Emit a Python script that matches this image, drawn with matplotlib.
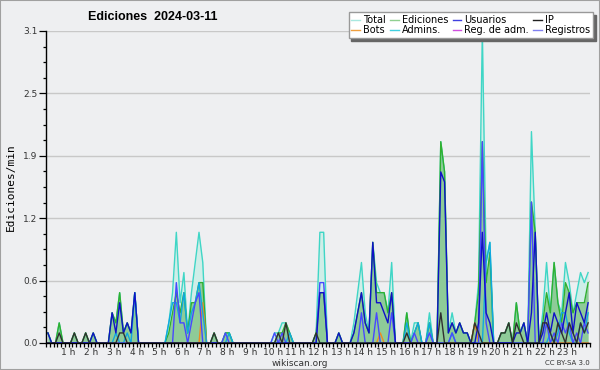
import numpy as np
import matplotlib
matplotlib.use('Agg')
import matplotlib.pyplot as plt
from matplotlib.lines import Line2D
from matplotlib.patches import Rectangle

# Ediciones por minuto, tramos de 10 minutos (12 valores por fila = 2 horas)
total = [
    0.1, 0, 0, 0.2, 0, 0, 0, 0.1, 0, 0, 0.1, 0,
    0.1, 0, 0, 0, 0, 0.3, 0.2, 0.5, 0.1, 0.2, 0.1, 0.5,
    0, 0, 0, 0, 0, 0, 0, 0, 0.2, 0.5, 1.1, 0.4,
    0.7, 0.1, 0.5, 0.8, 1.1, 0.8, 0, 0, 0.1, 0, 0, 0.1,
    0.1, 0, 0, 0, 0, 0, 0, 0, 0, 0, 0, 0,
    0.1, 0.1, 0.2, 0.2, 0.1, 0, 0, 0, 0, 0, 0, 0.1,
    1.1, 1.1, 0, 0, 0, 0.1, 0, 0, 0, 0.2, 0.5, 0.8,
    0.3, 0.1, 1.0, 0.6, 0.5, 0.5, 0.3, 0.8, 0, 0, 0, 0.3,
    0, 0.2, 0.2, 0, 0, 0.3, 0, 0, 2.0, 1.7, 0.1, 0.3,
    0.1, 0.2, 0.1, 0.1, 0, 0.2, 0.6, 3.1, 0.8, 1.0, 0, 0,
    0.1, 0.1, 0.2, 0, 0.4, 0.1, 0.2, 0, 2.1, 1.1, 0, 0.3,
    0.8, 0.3, 0.8, 0.4, 0.3, 0.8, 0.6, 0.3, 0.5, 0.7, 0.6, 0.7,
]
ediciones = [
    0.1, 0, 0, 0.2, 0, 0, 0, 0.1, 0, 0, 0.1, 0,
    0.1, 0, 0, 0, 0, 0.3, 0.2, 0.5, 0.1, 0.2, 0.1, 0.5,
    0, 0, 0, 0, 0, 0, 0, 0, 0.1, 0.3, 0.5, 0.3,
    0.5, 0.1, 0.4, 0.4, 0.6, 0.6, 0, 0, 0.1, 0, 0, 0.1,
    0.1, 0, 0, 0, 0, 0, 0, 0, 0, 0, 0, 0,
    0, 0.1, 0.1, 0.2, 0.1, 0, 0, 0, 0, 0, 0, 0.1,
    0.5, 0.5, 0, 0, 0, 0.1, 0, 0, 0, 0.1, 0.3, 0.5,
    0.2, 0.1, 1.0, 0.5, 0.5, 0.5, 0.3, 0.5, 0, 0, 0, 0.3,
    0, 0.1, 0.2, 0, 0, 0.2, 0, 0, 2.0, 1.7, 0.1, 0.2,
    0.1, 0.2, 0.1, 0.1, 0, 0.2, 0.5, 2.0, 0.6, 0.9, 0, 0,
    0.1, 0.1, 0.2, 0, 0.4, 0.1, 0.2, 0, 1.4, 1.1, 0, 0.2,
    0.5, 0.3, 0.8, 0.4, 0.2, 0.6, 0.5, 0.3, 0.4, 0.4, 0.4, 0.6,
]
usuarios = [
    0.1, 0, 0, 0, 0, 0, 0, 0, 0, 0, 0, 0,
    0.1, 0, 0, 0, 0, 0.3, 0.1, 0.4, 0.1, 0.2, 0.1, 0.5,
    0, 0, 0, 0, 0, 0, 0, 0, 0, 0, 0, 0,
    0, 0, 0, 0, 0, 0, 0, 0, 0, 0, 0, 0,
    0, 0, 0, 0, 0, 0, 0, 0, 0, 0, 0, 0,
    0, 0, 0, 0, 0, 0, 0, 0, 0, 0, 0, 0,
    0.5, 0.5, 0, 0, 0, 0.1, 0, 0, 0, 0.1, 0.3, 0.5,
    0.2, 0.1, 1.0, 0.4, 0.4, 0.3, 0.2, 0.5, 0, 0, 0, 0,
    0, 0, 0, 0, 0, 0, 0, 0, 1.7, 1.6, 0.1, 0.2,
    0.1, 0.2, 0.1, 0.1, 0, 0, 0.2, 1.1, 0.3, 0.2, 0, 0,
    0, 0, 0, 0, 0.1, 0.1, 0.2, 0, 0.3, 1.1, 0, 0.1,
    0.3, 0.1, 0.3, 0.2, 0.1, 0.3, 0.5, 0.1, 0.4, 0.3, 0.2, 0.4,
]
ip = [
    0, 0, 0, 0.1, 0, 0, 0, 0.1, 0, 0, 0.1, 0,
    0, 0, 0, 0, 0, 0, 0, 0.1, 0.1, 0, 0, 0,
    0, 0, 0, 0, 0, 0, 0, 0, 0, 0, 0, 0,
    0, 0, 0, 0, 0, 0, 0, 0, 0.1, 0, 0, 0,
    0, 0, 0, 0, 0, 0, 0, 0, 0, 0, 0, 0,
    0, 0.1, 0, 0.2, 0, 0, 0, 0, 0, 0, 0, 0.1,
    0, 0, 0, 0, 0, 0, 0, 0, 0, 0, 0, 0,
    0, 0, 0, 0, 0, 0, 0, 0, 0, 0, 0, 0.1,
    0, 0, 0, 0, 0, 0, 0, 0, 0.3, 0, 0, 0,
    0, 0, 0, 0, 0, 0.2, 0.1, 0, 0, 0, 0, 0,
    0.1, 0.1, 0.2, 0, 0.2, 0.1, 0, 0, 0, 0, 0, 0.2,
    0.2, 0.1, 0, 0.2, 0.1, 0, 0.2, 0.1, 0, 0.2, 0.1, 0.2,
]
bots = [
    0, 0, 0, 0, 0, 0, 0, 0, 0, 0, 0, 0,
    0, 0, 0, 0, 0, 0, 0, 0, 0, 0, 0, 0,
    0, 0, 0, 0, 0, 0, 0, 0, 0, 0, 0, 0,
    0, 0, 0, 0, 0, 0.4, 0, 0, 0, 0, 0, 0,
    0, 0, 0, 0, 0, 0, 0, 0, 0, 0, 0, 0,
    0, 0, 0, 0, 0, 0, 0, 0, 0, 0, 0, 0,
    0, 0, 0, 0, 0, 0, 0, 0, 0, 0, 0, 0,
    0, 0, 0, 0, 0.1, 0, 0, 0, 0, 0, 0, 0,
    0, 0, 0, 0, 0, 0, 0, 0, 0, 0, 0, 0,
    0, 0, 0, 0, 0, 0.2, 0, 0, 0, 0, 0, 0,
    0, 0, 0, 0, 0, 0, 0, 0, 0, 0, 0, 0,
    0, 0, 0, 0, 0, 0, 0, 0, 0, 0, 0, 0,
]
admins = [
    0, 0, 0, 0, 0, 0, 0, 0, 0, 0, 0, 0,
    0, 0, 0, 0, 0, 0, 0.1, 0, 0, 0.1, 0, 0.5,
    0, 0, 0, 0, 0, 0, 0, 0, 0.2, 0.4, 0.4, 0.2,
    0.5, 0.1, 0.3, 0.4, 0.6, 0.3, 0, 0, 0, 0, 0, 0,
    0.1, 0, 0, 0, 0, 0, 0, 0, 0, 0, 0, 0,
    0, 0, 0, 0, 0.1, 0, 0, 0, 0, 0, 0, 0,
    0, 0, 0, 0, 0, 0, 0, 0, 0, 0, 0, 0,
    0, 0, 0, 0, 0, 0, 0, 0, 0, 0, 0, 0.2,
    0, 0.1, 0.2, 0, 0, 0.2, 0, 0, 0, 0, 0, 0.1,
    0, 0, 0, 0, 0, 0, 0, 0, 0.8, 1.0, 0, 0,
    0, 0, 0, 0, 0, 0, 0, 0, 0, 0, 0, 0,
    0, 0.1, 0, 0.1, 0.3, 0.3, 0.1, 0, 0, 0.2, 0.1, 0.3,
]
reg_adm = [0.0] * 144
registros = [
    0, 0, 0, 0, 0, 0, 0, 0, 0, 0, 0, 0,
    0, 0, 0, 0, 0, 0, 0, 0, 0, 0, 0, 0,
    0, 0, 0, 0, 0, 0, 0, 0, 0, 0, 0.6, 0.2,
    0.2, 0, 0.2, 0.4, 0.5, 0, 0, 0, 0, 0, 0, 0.1,
    0, 0, 0, 0, 0, 0, 0, 0, 0, 0, 0, 0,
    0.1, 0, 0.1, 0, 0, 0, 0, 0, 0, 0, 0, 0,
    0.6, 0.6, 0, 0, 0, 0, 0, 0, 0, 0, 0, 0.3,
    0, 0, 0, 0.3, 0, 0, 0, 0.3, 0, 0, 0, 0,
    0, 0.1, 0, 0, 0, 0.1, 0, 0, 0, 0, 0, 0.1,
    0, 0, 0, 0, 0, 0, 0, 2.0, 0.2, 0, 0, 0,
    0, 0, 0, 0, 0, 0, 0, 0, 1.4, 0, 0, 0,
    0.2, 0, 0.1, 0, 0.2, 0.1, 0.2, 0, 0.1, 0, 0.2, 0.1,
]

hour_labels = [''] + [f'{h} h' for h in range(1, 24)] + ['']

bg = '#eeeff1'
horas = (np.arange(len(total)) + 0.5) / 6

fig = plt.figure(figsize=(6, 3.7), dpi=100, facecolor=bg)
ax = fig.add_axes([46 / 600, 27 / 370, 544 / 600, 312 / 370])
ax.set_facecolor(bg)

# rellenos
ax.fill_between(horas, total, color='#cfeee8', lw=0, zorder=1)
ax.fill_between(horas, ediciones, color='#8ecb98', lw=0, zorder=1.1)

ax.plot(horas, total, color='#3fd6c6', lw=1.0, zorder=1.6)
ax.plot(horas, ediciones, color='#30b030', lw=1.0, zorder=1.7)
ax.plot(horas, bots, color='#f08a20', lw=1.0, zorder=1.8)
ax.plot(horas, admins, color='#10a8e0', lw=1.0, zorder=1.9)
ax.plot(horas, reg_adm, color='#d030e0', lw=1.0, zorder=1.5)
ax.plot(horas, registros, color='#4848ff', lw=1.0, zorder=2.0)
ax.plot(horas, usuarios, color='#1010c8', lw=1.0, zorder=2.1)
ax.plot(horas, ip, color='#303030', lw=1.0, zorder=2.2)

ax.set_xlim(0, 24)
ax.set_ylim(0, 3.1)
yt = np.linspace(0, 3.1, 6)
ax.set_yticks(yt)
ax.set_yticklabels([f'{v:.1f}' for v in yt])
ax.set_yticks(np.linspace(0, 3.1, 21), minor=True)
ax.set_xticks(range(25))
ax.set_xticklabels(hour_labels)
ax.set_xticks(np.arange(0, 24.01, 1 / 6), minor=True)
ax.tick_params(axis='x', which='both', length=3, width=0.9, pad=0.5, labelsize=6.5, colors='black', labelcolor='#333333')
ax.tick_params(axis='y', which='major', length=5, width=0.9, pad=1, labelsize=6.5, labelcolor='#333333')
ax.tick_params(axis='y', which='minor', length=2.5, width=0.9)
ax.grid(axis='y', which='major', color='#c8c8c8', lw=1)
ax.set_axisbelow(True)
for s in ['top', 'right']:
    ax.spines[s].set_visible(False)
for s in ['left', 'bottom']:
    ax.spines[s].set_linewidth(1)
    ax.spines[s].set_zorder(3)

ax.set_ylabel('Ediciones/min', fontsize=8, family='DejaVu Sans Mono', labelpad=5)

fig.text(153 / 600, 1 - 17 / 370, 'Ediciones  2024-03-11', ha='center', va='center',
         fontsize=9, fontweight='bold', family='Liberation Sans')
fig.text(0.5, 1 - 363 / 370, 'wikiscan.org', ha='center', va='center', fontsize=6.5, color='#333333')
fig.text(590 / 600, 1 - 363 / 370, 'CC BY-SA 3.0', ha='right', va='center', fontsize=5, color='#333333')

# leyenda (colores más claros como en el original)
handles = [
    Line2D([], [], color='#a8e8e0', lw=1), Line2D([], [], color='#f0a040', lw=1),
    Line2D([], [], color='#90d090', lw=1), Line2D([], [], color='#40d0e0', lw=1),
    Line2D([], [], color='#4040e0', lw=1), Line2D([], [], color='#d050e0', lw=1),
    Line2D([], [], color='#202020', lw=1), Line2D([], [], color='#8080f0', lw=1),
]
labels = ['Total', 'Bots', 'Ediciones', 'Admins.', 'Usuarios', 'Reg. de adm.', 'IP', 'Registros']
leg = fig.legend(handles, labels, ncol=4, loc='upper right', bbox_to_anchor=(593 / 600, 1 - 12 / 370),
                 fontsize=7, frameon=True, fancybox=False, shadow={'color': '#666666', 'alpha': 1},
                 handlelength=0.9, handletextpad=0.3, columnspacing=0.45, labelspacing=0.05,
                 borderpad=0.3, borderaxespad=0)
leg.get_frame().set_edgecolor('#999999')
leg.get_frame().set_linewidth(1)

fig.patches.append(Rectangle((0, 0), 1, 1, transform=fig.transFigure, fill=False,
                             edgecolor='#a0a0a0', lw=1.5))

fig.savefig('out.png', dpi=100, facecolor=bg)
